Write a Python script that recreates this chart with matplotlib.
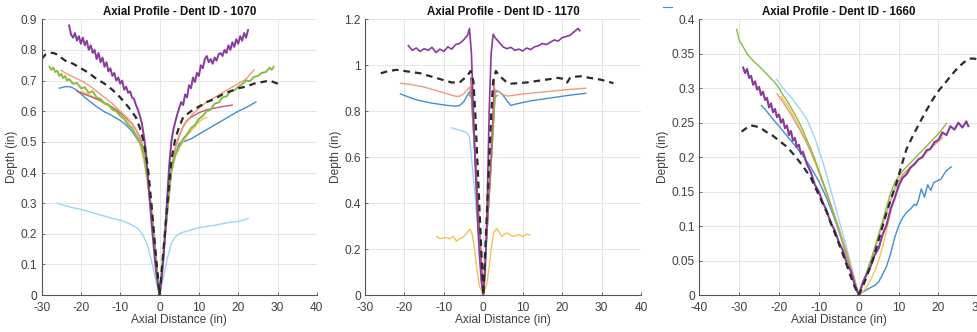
import matplotlib
matplotlib.use("Agg")
import matplotlib.pyplot as plt
from matplotlib.ticker import FormatStrFormatter
from matplotlib.lines import Line2D

plt.rcParams["font.family"] = ["Liberation Sans", "DejaVu Sans"]
plt.rcParams["axes.unicode_minus"] = False

# ---------------- Dent ID 1070 ----------------
d1070_purple_x = [-23, -22.5, -22, -21.5, -21, -20.5, -20, -19.5, -19, -18.5,
                  -18, -17.5, -17, -16.5, -16, -15.5, -15, -14.5, -14, -13.5,
                  -13, -12.5, -12, -11.5, -11, -10.5, -10, -9.5, -9, -8.5,
                  -8, -7.5, -7, -6.5, -6, -5.5, -5, -4.5, -4, -3.5,
                  -3, -2.5, -2, -1.5, -1, -0.5, 0, 0.5, 1, 1.5,
                  2, 2.5, 3, 3.5, 4, 4.5, 5, 5.5, 6, 6.5,
                  7, 7.5, 8, 8.5, 9, 9.5, 10, 10.5, 11, 11.5,
                  12, 12.5, 13, 13.5, 14, 14.5, 15, 15.5, 16, 16.5,
                  17, 17.5, 18, 18.5, 19, 19.5, 20, 20.5, 21, 21.5,
                  22, 22.5]
d1070_purple_y = [0.88, 0.85, 0.84, 0.855, 0.83, 0.845, 0.82, 0.84, 0.815, 0.83,
                  0.80, 0.815, 0.79, 0.80, 0.77, 0.79, 0.76, 0.775, 0.745, 0.76,
                  0.73, 0.74, 0.715, 0.725, 0.70, 0.71, 0.69, 0.70, 0.67, 0.68,
                  0.66, 0.665, 0.645, 0.64, 0.62, 0.605, 0.585, 0.56, 0.52, 0.47,
                  0.39, 0.31, 0.23, 0.16, 0.09, 0.04, 0.0, 0.05, 0.12, 0.22,
                  0.33, 0.43, 0.50, 0.54, 0.565, 0.59, 0.61, 0.63, 0.62, 0.655,
                  0.645, 0.685, 0.675, 0.71, 0.695, 0.725, 0.715, 0.75, 0.74, 0.77,
                  0.78, 0.76, 0.77, 0.755, 0.775, 0.765, 0.785, 0.79, 0.78, 0.80,
                  0.79, 0.815, 0.80, 0.825, 0.81, 0.835, 0.82, 0.845, 0.83, 0.855,
                  0.84, 0.865]

d1070_green_x = [-28, -27.5, -27, -26.5, -26, -25.5, -25, -24.5, -24, -23.5,
                 -23, -22, -21, -20, -19, -18, -17, -16, -15, -14,
                 -13, -12, -11, -10, -9, -8, -7, -6, -5, -4,
                 -3, -2, -1, 0, 1, 2, 3, 4, 5, 6,
                 7, 8, 9, 10, 11, 12, 13, 14, 15, 16,
                 17, 18, 19, 20, 21, 22, 23, 24, 25, 26,
                 27, 28, 28.5, 29]
d1070_green_y = [0.745, 0.735, 0.742, 0.728, 0.732, 0.715, 0.722, 0.708, 0.715, 0.70,
                 0.705, 0.69, 0.692, 0.675, 0.678, 0.66, 0.665, 0.645, 0.64, 0.625,
                 0.622, 0.605, 0.60, 0.585, 0.575, 0.555, 0.545, 0.52, 0.50, 0.46,
                 0.38, 0.26, 0.13, 0.0, 0.14, 0.28, 0.41, 0.46, 0.485, 0.51,
                 0.525, 0.545, 0.555, 0.575, 0.585, 0.60, 0.605, 0.625, 0.628, 0.645,
                 0.648, 0.665, 0.668, 0.68, 0.688, 0.70, 0.698, 0.712, 0.715, 0.725,
                 0.728, 0.742, 0.735, 0.745]

d1070_dash_x = [-30, -29, -28, -27, -26, -25, -24, -22, -20, -18,
                -16, -14, -12, -10, -8, -6, -5, -4, -3, -2,
                -1, 0, 1, 2, 3, 4, 5, 6, 8, 10,
                12, 14, 16, 18, 20, 22, 24, 26, 28, 29,
                30, 31]
d1070_dash_y = [0.77, 0.785, 0.79, 0.79, 0.785, 0.775, 0.765, 0.755, 0.74, 0.725,
                0.705, 0.69, 0.67, 0.645, 0.615, 0.58, 0.545, 0.50, 0.42, 0.29,
                0.14, 0.0, 0.15, 0.30, 0.44, 0.51, 0.55, 0.58, 0.60, 0.615,
                0.63, 0.64, 0.655, 0.665, 0.675, 0.68, 0.69, 0.695, 0.70, 0.695,
                0.69, 0.68]

d1070_orange_x = [-25, -24, -22, -20, -18, -16, -14, -12, -10, -8,
                  -6, -5, -4, -3, -2, -1, 0, 1, 2, 3,
                  4, 5, 6, 8, 10, 12, 14, 16, 18, 20,
                  22, 23, 24]
d1070_orange_y = [0.733, 0.725, 0.712, 0.70, 0.685, 0.665, 0.645, 0.625, 0.60, 0.575,
                  0.54, 0.51, 0.47, 0.39, 0.27, 0.13, 0.0, 0.14, 0.28, 0.41,
                  0.48, 0.52, 0.55, 0.585, 0.61, 0.63, 0.645, 0.66, 0.675, 0.69,
                  0.705, 0.72, 0.735]

d1070_red_x = [-21, -19, -17, -15, -13, -11, -9, -7, -6, -5,
               -4, -3, -2, -1, 0, 1, 2, 3, 4, 5,
               6, 7, 8, 10, 12, 14, 16, 18.5]
d1070_red_y = [0.665, 0.655, 0.645, 0.635, 0.62, 0.605, 0.585, 0.56, 0.54, 0.515,
               0.475, 0.39, 0.27, 0.13, 0.0, 0.14, 0.28, 0.41, 0.48, 0.52,
               0.55, 0.57, 0.58, 0.595, 0.605, 0.61, 0.615, 0.62]

d1070_blue_x = [-25.5, -24, -23, -22, -21, -20, -19, -18, -17, -16,
                -15, -14, -13, -12, -11, -10, -9, -8, -7, -6,
                -5, -4, -3, -2, -1, 0, 1, 2, 3, 4,
                5, 6, 7, 8, 10, 12, 14, 16, 18, 20,
                22, 24.5]
d1070_blue_y = [0.675, 0.68, 0.68, 0.676, 0.668, 0.657, 0.645, 0.635, 0.625, 0.615,
                0.607, 0.598, 0.592, 0.585, 0.577, 0.57, 0.56, 0.548, 0.535, 0.515,
                0.495, 0.455, 0.37, 0.26, 0.13, 0.0, 0.13, 0.27, 0.40, 0.46,
                0.495, 0.50, 0.505, 0.51, 0.525, 0.54, 0.555, 0.57, 0.585, 0.60,
                0.612, 0.63]

d1070_yellow_x = [-20, -18, -16, -14, -12, -10, -8, -6, -5, -4,
                  -3, -2, -1, 0, 1, 2, 3, 4, 5, 6,
                  7, 8, 9, 10, 11, 12]
d1070_yellow_y = [0.665, 0.655, 0.64, 0.625, 0.61, 0.59, 0.565, 0.525, 0.495, 0.44,
                  0.36, 0.25, 0.12, 0.0, 0.13, 0.27, 0.40, 0.45, 0.48, 0.50,
                  0.52, 0.535, 0.55, 0.565, 0.575, 0.58]

d1070_cyan_x = [-26, -24, -22, -20, -18, -16, -14, -12, -10, -8,
                -6, -5, -4, -3, -2, -1, 0, 1, 2, 3,
                4, 5, 6, 8, 10, 12, 14, 16, 18, 20,
                21, 22.5]
d1070_cyan_y = [0.30, 0.292, 0.285, 0.28, 0.273, 0.265, 0.258, 0.25, 0.245, 0.235,
                0.222, 0.21, 0.19, 0.16, 0.11, 0.05, 0.0, 0.06, 0.12, 0.17,
                0.19, 0.20, 0.205, 0.213, 0.22, 0.224, 0.228, 0.233, 0.238, 0.24,
                0.244, 0.25]

# ---------------- Dent ID 1170 ----------------
d1170_purple_x = [-19, -18, -17, -16, -15, -14, -13, -12, -11, -10,
                  -9, -8, -7, -6, -5, -4.5, -4, -3.5, -3, -2.5,
                  -2, -1.5, -1, -0.5, 0, 0.5, 1, 1.5, 2, 2.5,
                  3, 4, 5, 6, 7, 8, 9, 10, 11, 12,
                  13, 14, 15, 16, 17, 18, 19, 20, 21, 22,
                  23, 24, 24.5]
d1170_purple_y = [1.085, 1.065, 1.075, 1.06, 1.072, 1.065, 1.078, 1.055, 1.07, 1.06,
                  1.08, 1.07, 1.09, 1.095, 1.11, 1.12, 1.13, 1.16, 1.05, 0.80,
                  0.55, 0.35, 0.18, 0.06, 0.0, 0.10, 0.40, 0.80, 1.05, 1.135,
                  1.12, 1.10, 1.08, 1.072, 1.078, 1.065, 1.07, 1.062, 1.075, 1.068,
                  1.08, 1.085, 1.095, 1.09, 1.10, 1.11, 1.105, 1.12, 1.125, 1.13,
                  1.145, 1.16, 1.15]

d1170_dash_x = [-26, -24, -22, -20, -18, -16, -14, -12, -10, -8,
                -6, -5, -4, -3.2, -2.5, -2, -1, 0, 1, 2,
                2.5, 3.2, 4, 5, 6, 7, 9, 11, 13, 15,
                17, 19, 20.5, 21.3, 22, 23, 25, 27, 29, 31,
                33]
d1170_dash_y = [0.965, 0.975, 0.98, 0.975, 0.97, 0.965, 0.955, 0.945, 0.935, 0.925,
                0.925, 0.94, 0.955, 0.975, 0.93, 0.78, 0.39, 0.0, 0.39, 0.78,
                0.93, 0.975, 0.955, 0.94, 0.925, 0.92, 0.922, 0.925, 0.93, 0.935,
                0.94, 0.945, 0.94, 0.925, 0.945, 0.95, 0.952, 0.945, 0.94, 0.932,
                0.922]

d1170_orange_x = [-21, -18, -15, -12, -9, -7, -6, -5, -4, -3.5,
                  -3, -2, -1, 0, 1, 2, 3, 4, 5, 6,
                  8, 10, 13, 16, 19, 22, 26]
d1170_orange_y = [0.922, 0.915, 0.905, 0.89, 0.875, 0.865, 0.865, 0.875, 0.895, 0.905,
                  0.87, 0.58, 0.29, 0.0, 0.29, 0.58, 0.895, 0.885, 0.873, 0.866,
                  0.87, 0.875, 0.88, 0.885, 0.89, 0.895, 0.90]

d1170_blue_x = [-21, -19, -17, -15, -13, -11, -9, -7, -6, -5,
                -4, -3.5, -3, -2, -1, 0, 1, 2, 3, 4,
                5, 6, 7, 8, 10, 12, 14, 16, 18, 20,
                22, 24, 26]
d1170_blue_y = [0.875, 0.862, 0.85, 0.842, 0.835, 0.83, 0.825, 0.822, 0.825, 0.84,
                0.87, 0.885, 0.86, 0.57, 0.285, 0.0, 0.285, 0.57, 0.885, 0.885,
                0.87, 0.845, 0.825, 0.83, 0.838, 0.845, 0.85, 0.855, 0.86, 0.865,
                0.87, 0.874, 0.878]

d1170_red_x = [-3.2, -2, -1, 0, 1, 2, 2.8]
d1170_red_y = [0.945, 0.6, 0.3, 0.0, 0.3, 0.6, 0.935]

d1170_green_x = [-3.6, -3, -2, -1, 0, 1, 2, 3, 3.6]
d1170_green_y = [0.87, 0.86, 0.58, 0.29, 0.0, 0.29, 0.58, 0.86, 0.87]

d1170_cyan_x = [-8, -7, -6, -5, -4.3, -3.5, -3, -2, -1, 0, 1, 1.7, 2.2, 2.7]
d1170_cyan_y = [0.728, 0.722, 0.718, 0.712, 0.708, 0.69, 0.6, 0.42, 0.2, 0.0, 0.3, 0.6, 0.71, 0.735]

d1170_yellow_x = [-11.8, -11, -10, -9.3, -8.5, -7.6, -6.8, -6, -5.1, -4.2,
                  -3.4, -2.8, -2.2, -1.7, -1, 0, 1, 1.5, 2, 2.6,
                  3.4, 4, 4.7, 5.3, 6, 6.8, 7.6, 8.4, 9.3, 10,
                  11, 11.8]
d1170_yellow_y = [0.255, 0.245, 0.25, 0.25, 0.245, 0.255, 0.235, 0.245, 0.252, 0.27,
                  0.287, 0.265, 0.2, 0.125, 0.04, 0.0, 0.06, 0.125, 0.2, 0.27,
                  0.29, 0.275, 0.255, 0.265, 0.27, 0.262, 0.255, 0.26, 0.262, 0.255,
                  0.265, 0.262]

# ---------------- Dent ID 1660 ----------------
d1660_green_x = [-30.6, -30, -29, -28, -27, -26, -25, -24, -23, -22,
                 -21, -20, -19, -18, -17, -16, -15, -14, -13, -12,
                 -11, -10, -9, -8, -7, -6, -5, -4, -3, -2,
                 -1, 0, 1, 2, 3, 4, 5, 6, 7, 8,
                 9, 10, 11, 12, 13, 14, 15, 16, 17, 18,
                 19, 20, 21, 22]
d1660_green_y = [0.385, 0.37, 0.36, 0.35, 0.343, 0.337, 0.332, 0.326, 0.32, 0.314,
                 0.308, 0.30, 0.29, 0.282, 0.272, 0.262, 0.251, 0.239, 0.225, 0.212,
                 0.197, 0.181, 0.164, 0.148, 0.13, 0.112, 0.094, 0.075, 0.056, 0.037,
                 0.018, 0.0, 0.015, 0.032, 0.05, 0.068, 0.088, 0.108, 0.128, 0.148,
                 0.163, 0.172, 0.18, 0.186, 0.192, 0.198, 0.204, 0.21, 0.216, 0.222,
                 0.228, 0.234, 0.241, 0.249]

d1660_purple_x = [-29, -28.5, -28, -27.5, -27, -26.5, -26, -25.5, -25, -24.5,
                  -24, -23.5, -23, -22.5, -22, -21.5, -21, -20.5, -20, -19.5,
                  -19, -18.5, -18, -17.5, -17, -16.5, -16, -15.5, -15, -14.5,
                  -14, -13, -12, -11, -10, -9, -8, -7, -6, -5,
                  -4, -3, -2, -1, 0, 1, 2, 3, 4, 5,
                  6, 7, 8, 9, 10, 11, 12, 13, 14, 15,
                  16, 17, 18, 19, 20, 21, 22, 23, 24, 25,
                  26, 27, 27.5]
d1660_purple_y = [0.33, 0.322, 0.328, 0.315, 0.318, 0.305, 0.31, 0.298, 0.302, 0.29,
                  0.295, 0.283, 0.286, 0.272, 0.278, 0.265, 0.27, 0.258, 0.262, 0.25,
                  0.255, 0.242, 0.246, 0.232, 0.238, 0.224, 0.228, 0.215, 0.218, 0.205,
                  0.208, 0.19, 0.178, 0.16, 0.15, 0.134, 0.122, 0.104, 0.094, 0.077,
                  0.065, 0.046, 0.035, 0.015, 0.0, 0.018, 0.03, 0.042, 0.058, 0.068,
                  0.088, 0.102, 0.125, 0.14, 0.158, 0.17, 0.175, 0.185, 0.19, 0.197,
                  0.20, 0.21, 0.212, 0.222, 0.225, 0.236, 0.232, 0.245, 0.24, 0.25,
                  0.243, 0.252, 0.245]

d1660_cyan_x = [-20.6, -19, -17, -15, -13, -11, -9, -7, -5, -3,
                -1, 0, 1, 3, 5, 7, 9, 11, 13]
d1660_cyan_y = [0.313, 0.30, 0.287, 0.272, 0.255, 0.228, 0.193, 0.152, 0.11, 0.068,
                0.023, 0.0, 0.018, 0.05, 0.085, 0.12, 0.152, 0.172, 0.185]

d1660_orange_x = [-20.5, -19, -17, -15, -13, -11, -9, -7, -5, -3,
                  -1, 0, 1, 3, 5, 7, 9, 11, 13, 15,
                  17, 19, 21]
d1660_orange_y = [0.292, 0.28, 0.262, 0.242, 0.22, 0.195, 0.165, 0.132, 0.098, 0.062,
                  0.022, 0.0, 0.016, 0.048, 0.085, 0.12, 0.155, 0.175, 0.186, 0.197,
                  0.207, 0.218, 0.228]

d1660_yellow_x = [-19.5, -18, -16, -14, -12, -10, -8, -6, -4, -2,
                  0, 1, 2, 3, 4, 5, 6, 7, 8, 9,
                  10, 12, 14, 16, 18, 20, 21]
d1660_yellow_y = [0.288, 0.276, 0.256, 0.233, 0.207, 0.178, 0.146, 0.113, 0.077, 0.04,
                  0.0, 0.004, 0.012, 0.022, 0.035, 0.05, 0.07, 0.095, 0.12, 0.142,
                  0.16, 0.178, 0.19, 0.202, 0.213, 0.225, 0.232]

d1660_blue_x = [-24.4, -23, -21.5, -20, -18, -16, -14, -12, -10, -8,
                -6, -4, -2, 0, 1, 2, 3, 4, 5, 6,
                7, 8, 9, 10, 11, 12, 13, 14, 14.5, 15,
                15.7, 16.5, 17.3, 18.1, 18.8, 19.4, 20.6, 21.9, 23.2]
d1660_blue_y = [0.275, 0.266, 0.255, 0.245, 0.231, 0.217, 0.202, 0.185, 0.165, 0.14,
                0.11, 0.076, 0.038, 0.0, 0.004, 0.008, 0.011, 0.014, 0.019, 0.03,
                0.042, 0.06, 0.083, 0.10, 0.112, 0.12, 0.125, 0.132, 0.13, 0.138,
                0.154, 0.142, 0.16, 0.152, 0.163, 0.165, 0.168, 0.18, 0.186]

d1660_dash_x = [-29.4, -28, -27, -26, -24.8, -23, -21.5, -20, -18, -16,
                -14, -12, -10, -8, -6, -4, -2, -1, 0, 1,
                2, 3.6, 5, 7, 8, 9.5, 11, 12, 13.5, 15.3,
                17, 18.6, 20, 22, 24, 25.3, 26.5, 27.8, 29, 30,
                31]
d1660_dash_y = [0.237, 0.243, 0.246, 0.245, 0.243, 0.236, 0.231, 0.224, 0.215, 0.202,
                0.187, 0.17, 0.145, 0.12, 0.09, 0.06, 0.027, 0.012, 0.0, 0.012,
                0.027, 0.052, 0.08, 0.12, 0.138, 0.163, 0.193, 0.212, 0.23, 0.25,
                0.268, 0.284, 0.296, 0.31, 0.324, 0.332, 0.338, 0.343, 0.343, 0.341,
                0.338]

# colours (MATLAB default order, as they look in the picture)
C_BLUE = "#3f8fd4"
C_ORANGE = "#f09a7c"
C_YELLOW = "#f3c255"
C_PURPLE = "#8a3a9c"
C_GREEN = "#86bb45"
C_CYAN = "#9ad6f2"
C_RED = "#cc5670"
C_DASH = "#2b2b2b"
TXT = "#404040"


def style_axes(ax, title, xlim, xticks, ylim, yticks, yfmt):
    ax.set_xlim(*xlim)
    ax.set_ylim(*ylim)
    ax.set_xticks(xticks)
    ax.set_yticks(yticks)
    ax.yaxis.set_major_formatter(FormatStrFormatter(yfmt))
    ax.grid(True, color="#e6e6e6", linewidth=0.7)
    ax.set_axisbelow(True)
    for side in ["top", "right"]:
        ax.spines[side].set_visible(False)
    for side in ["left", "bottom"]:
        ax.spines[side].set_color("#555555")
        ax.spines[side].set_linewidth(0.8)
    ax.tick_params(direction="in", length=2.5, width=0.6, colors="#555555",
                   labelcolor=TXT, labelsize=8.6)
    ax.tick_params(axis="x", pad=5)
    ax.tick_params(axis="y", pad=3)
    ax.set_title(title, fontsize=8.3, fontweight="bold", color="#111111", pad=3)
    ax.set_xlabel("Axial Distance (in)", fontsize=8.6, color=TXT, labelpad=0)
    ax.set_ylabel("Depth (in)", fontsize=8.6, color=TXT, labelpad=2)


fig = plt.figure(figsize=(9.78, 3.32), dpi=100)

# panel 1
ax1 = fig.add_axes([0.0425, 0.111, 0.2815, 0.831])
ax1.plot(d1070_cyan_x, d1070_cyan_y, color=C_CYAN, lw=1.0)
ax1.plot(d1070_blue_x, d1070_blue_y, color=C_BLUE, lw=1.0)
ax1.plot(d1070_yellow_x, d1070_yellow_y, color=C_YELLOW, lw=1.0)
ax1.plot(d1070_red_x, d1070_red_y, color=C_RED, lw=1.0)
ax1.plot(d1070_orange_x, d1070_orange_y, color=C_ORANGE, lw=1.0)
ax1.plot(d1070_green_x, d1070_green_y, color=C_GREEN, lw=1.4)
ax1.plot(d1070_purple_x, d1070_purple_y, color=C_PURPLE, lw=1.4)
ax1.plot(d1070_dash_x, d1070_dash_y, color=C_DASH, lw=1.6, ls=(0, (3, 2.2)))
style_axes(ax1, "Axial Profile - Dent ID - 1070", (-30, 40), range(-30, 41, 10),
           (0, 0.9), [i / 10 for i in range(10)], "%g")

# panel 2
ax2 = fig.add_axes([0.3732, 0.111, 0.2822, 0.831])
ax2.plot(d1170_yellow_x, d1170_yellow_y, color=C_YELLOW, lw=1.0)
ax2.plot(d1170_cyan_x, d1170_cyan_y, color=C_CYAN, lw=1.0)
ax2.plot(d1170_blue_x, d1170_blue_y, color=C_BLUE, lw=1.0)
ax2.plot(d1170_orange_x, d1170_orange_y, color=C_ORANGE, lw=1.0)
ax2.plot(d1170_green_x, d1170_green_y, color=C_GREEN, lw=1.0)
ax2.plot(d1170_red_x, d1170_red_y, color=C_RED, lw=1.0)
ax2.plot(d1170_purple_x, d1170_purple_y, color=C_PURPLE, lw=1.2)
ax2.plot(d1170_dash_x, d1170_dash_y, color=C_DASH, lw=1.6, ls=(0, (3, 2.2)))
style_axes(ax2, "Axial Profile - Dent ID - 1170", (-30, 40), range(-30, 41, 10),
           (0, 1.2), [i / 5 for i in range(7)], "%g")

# panel 3
ax3 = fig.add_axes([0.7150, 0.111, 0.2853, 0.831])
ax3.plot(d1660_blue_x, d1660_blue_y, color=C_BLUE, lw=1.0)
ax3.plot(d1660_cyan_x, d1660_cyan_y, color=C_CYAN, lw=1.0)
ax3.plot(d1660_yellow_x, d1660_yellow_y, color=C_YELLOW, lw=1.0)
ax3.plot(d1660_orange_x, d1660_orange_y, color=C_ORANGE, lw=1.0)
ax3.plot(d1660_green_x, d1660_green_y, color=C_GREEN, lw=1.0)
ax3.plot(d1660_purple_x, d1660_purple_y, color=C_PURPLE, lw=1.5)
ax3.plot(d1660_dash_x, d1660_dash_y, color=C_DASH, lw=1.6, ls=(0, (3, 2.2)))
style_axes(ax3, "Axial Profile - Dent ID - 1660", (-40, 30), range(-40, 31, 10),
           (0, 0.4), [i / 20 for i in range(9)], "%g")

# cropped legend stub at the top of the third panel
fig.add_artist(Line2D([0.678, 0.687], [0.98, 0.98], color=C_BLUE, lw=0.8,
                      transform=fig.transFigure))

fig.savefig("out.png", dpi=100)
